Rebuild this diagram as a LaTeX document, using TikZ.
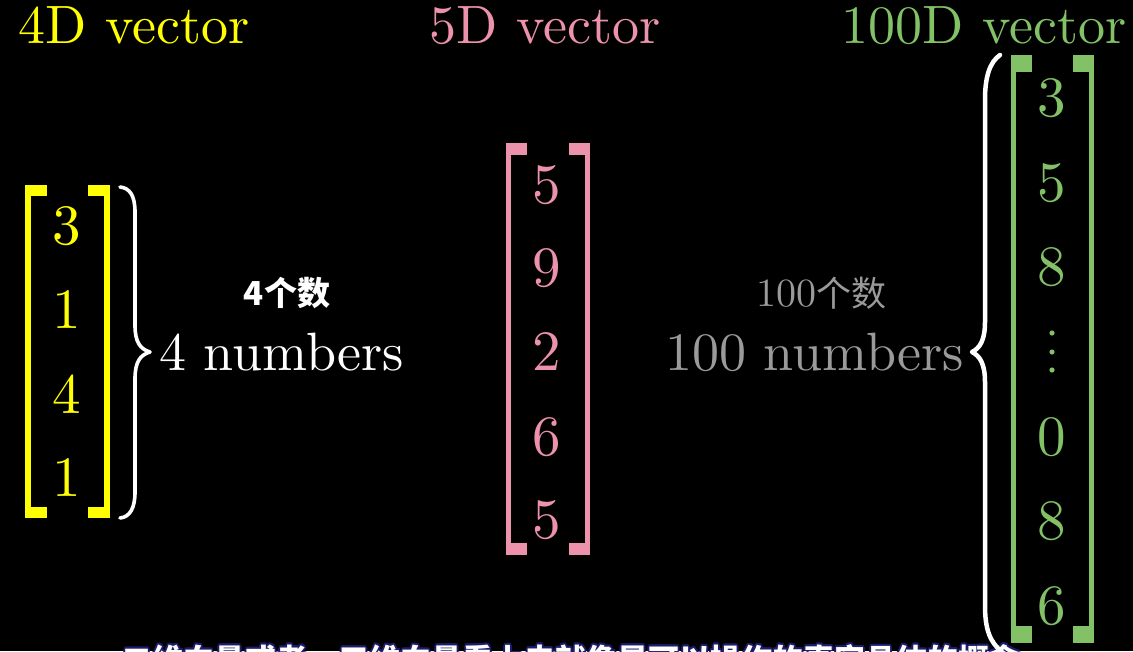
\documentclass[tikz,border=0pt]{standalone}
\usepackage{fontspec}
\setmainfont{lmroman10-regular.otf}
\newfontfamily\cjk{Noto Sans CJK SC}
\definecolor{vyellow}{HTML}{FFFF00}
\definecolor{vpink}{HTML}{EC92AB}
\definecolor{vgreen}{HTML}{83C167}
\definecolor{vgrey}{HTML}{9A9A9A}
\definecolor{subnavy}{HTML}{1C1C6A}
\tikzset{
  big/.style={font=\fontsize{54}{60}\selectfont, inner sep=0pt},
  entry/.style={font=\fontsize{57}{60}\selectfont, inner sep=0pt, anchor=center},
  cnlabel/.style={font=\fontsize{33}{36}\selectfont, inner sep=0pt},
  bracebar/.style={draw=white, line width=3.6pt, line cap=round, line join=round},
  subt/.style={font=\cjk\bfseries\fontsize{31}{34}\selectfont, inner sep=0pt, anchor=base},
}
\newcommand{\bracketpair}[9]{% color, xL, xR, ytop, ybot, barw, tickw, tickh
  \fill[#1] (#2,#4) rectangle ++(#6,#5-#4);
  \fill[#1] (#2,#4) rectangle ++(#7,#8);
  \fill[#1] (#2,#5) rectangle ++(#7,-#8);
  \fill[#1] (#3,#4) rectangle ++(-#6,#5-#4);
  \fill[#1] (#3,#4) rectangle ++(-#7,#8);
  \fill[#1] (#3,#5) rectangle ++(-#7,-#8);
}
\begin{document}
\begin{tikzpicture}[x=1pt,y=-1pt]
\fill[black] (0,0) rectangle (1133,651);
\useasboundingbox (0,0) rectangle (1133,651);
\clip (0,0) rectangle (1133,651);

% titles
\node[big, text=vyellow, anchor=base] (t4) at (134,43) {4D vector};
\node[big, text=vpink, anchor=base] (t5) at (545,43) {5D vector};
\node[big, text=vgreen, anchor=base] (t100) at (984,43) {100D vector};

% yellow vector
\bracketpair{vyellow}{25}{110}{185}{518}{6}{22}{11}{}
\node[entry, text=vyellow] (y1) at (67,226) {3};
\node[entry, text=vyellow] (y2) at (67,310) {1};
\node[entry, text=vyellow] (y3) at (67,394) {4};
\node[entry, text=vyellow] (y4) at (67,478) {1};

% yellow brace
\draw[bracebar] (120,187) .. controls (130,188) and (135,196) .. (135,212) -- (135,325)
  .. controls (135,342) and (140,349) .. (150,352)
  .. controls (140,355) and (135,362) .. (135,379) -- (135,492)
  .. controls (135,508) and (130,517) .. (120,518);

\node[cnlabel, text=white, anchor=base] (c4) at (287,305) {\cjk\bfseries 4个数};
\node[big, text=white, anchor=base] (n4) at (281.5,370) {4 numbers};

% pink vector
\bracketpair{vpink}{506}{590}{143}{555}{5}{21}{12}{}
\node[entry, text=vpink] (p1) at (547,185) {5};
\node[entry, text=vpink] (p2) at (547,268) {9};
\node[entry, text=vpink] (p3) at (547,352) {2};
\node[entry, text=vpink] (p4) at (547,437) {6};
\node[entry, text=vpink] (p5) at (547,520) {5};

% grey labels
\node[cnlabel, text=vgrey, anchor=base] (c100) at (821,306) {{\fontsize{40}{42}\selectfont 100}{\cjk\fontsize{35}{38}\selectfont 个数}};
\node[big, text=vgrey, anchor=base] (n100) at (814.5,370) {100 numbers};

% green vector
\bracketpair{vgreen}{1011}{1094}{55}{643}{5}{21}{17}{}
\node[entry, text=vgreen] (g1) at (1052,98) {3};
\node[entry, text=vgreen] (g2) at (1052,183) {5};
\node[entry, text=vgreen] (g3) at (1052,267) {8};
\fill[vgreen] (1052,333) circle (2.6) (1052,352) circle (2.6) (1052,370) circle (2.6);
\node[entry, text=vgreen] (g5) at (1052,437) {0};
\node[entry, text=vgreen] (g6) at (1052,521) {8};
\node[entry, text=vgreen] (g7) at (1052,606) {6};

% subtitle (cut off at bottom)
\foreach \dx/\dy in {-1.8/0,1.8/0,0/-1.8,0/1.8,-1.3/-1.3,1.3/-1.3,-1.3/1.3,1.3/1.3}{
  \node[subt, text=subnavy] at (571+\dx,671+\dy) {二维向量或者，三维向量看上去就像是可以操作的真实具体的概念};
}
\node[subt, text=white] (sub) at (571,671) {二维向量或者，三维向量看上去就像是可以操作的真实具体的概念};

% green brace
\draw[bracebar, line width=4.5pt] (1000,55) .. controls (990,62) and (985,76) .. (985,100) -- (985,322)
  .. controls (985,340) and (980,348) .. (972,352)
  .. controls (980,356) and (985,364) .. (985,382) -- (985,605)
  .. controls (985,630) and (990,642) .. (1002,652);
\end{tikzpicture}
\end{document}
